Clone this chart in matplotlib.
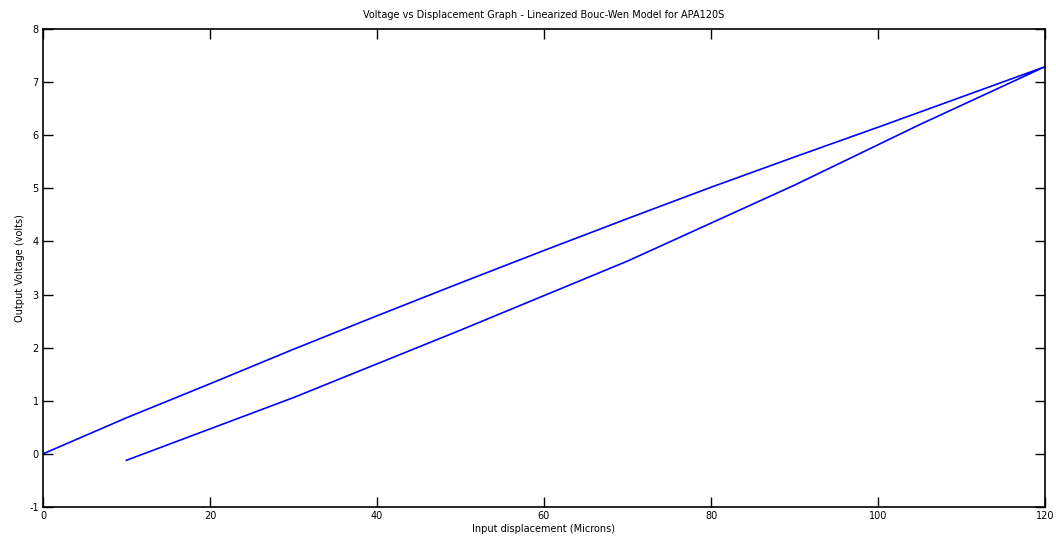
import numpy as np
import matplotlib.pyplot as plt

# hysteresis loop: loading branch then unloading branch
x_up = [0, 10, 20, 30, 40, 50, 60, 70, 80, 90, 100, 110, 120]
v_up = [0, 0.68, 1.32, 1.97, 2.60, 3.22, 3.83, 4.43, 5.02, 5.59, 6.15, 6.72, 7.29]
x_down = [120, 105, 90, 70, 50, 30, 10]
v_down = [7.29, 6.20, 5.06, 3.63, 2.33, 1.06, -0.12]

xticks = [0, 20, 40, 60, 80, 100, 120]
yticks = [-1, 0, 1, 2, 3, 4, 5, 6, 7, 8]

plt.rcParams['axes.unicode_minus'] = False

x = np.array(x_up + x_down)
v = np.array(v_up + v_down)

fig = plt.figure(figsize=(10.56, 5.4), dpi=100)
ax = fig.add_axes([43/1056, 33/540, 1002/1056, 478/540])

ax.plot(x, v, color=(0, 0, 1), lw=1.2)

ax.set_xlim(0, 120)
ax.set_ylim(-1, 8)
ax.set_xticks(xticks)
ax.set_yticks(yticks)
ax.tick_params(direction='in', length=7, width=1, top=True, right=True,
               labelsize=7, pad=3)
for s in ax.spines.values():
    s.set_linewidth(1.2)

ax.set_title('Voltage vs Displacement Graph - Linearized Bouc-Wen Model for APA120S',
             fontsize=7, pad=8)
ax.set_xlabel('Input displacement (Microns)', fontsize=7, labelpad=2)
ax.set_ylabel('Output Voltage (volts)', fontsize=7, labelpad=3)

fig.savefig('out.png', dpi=100)
